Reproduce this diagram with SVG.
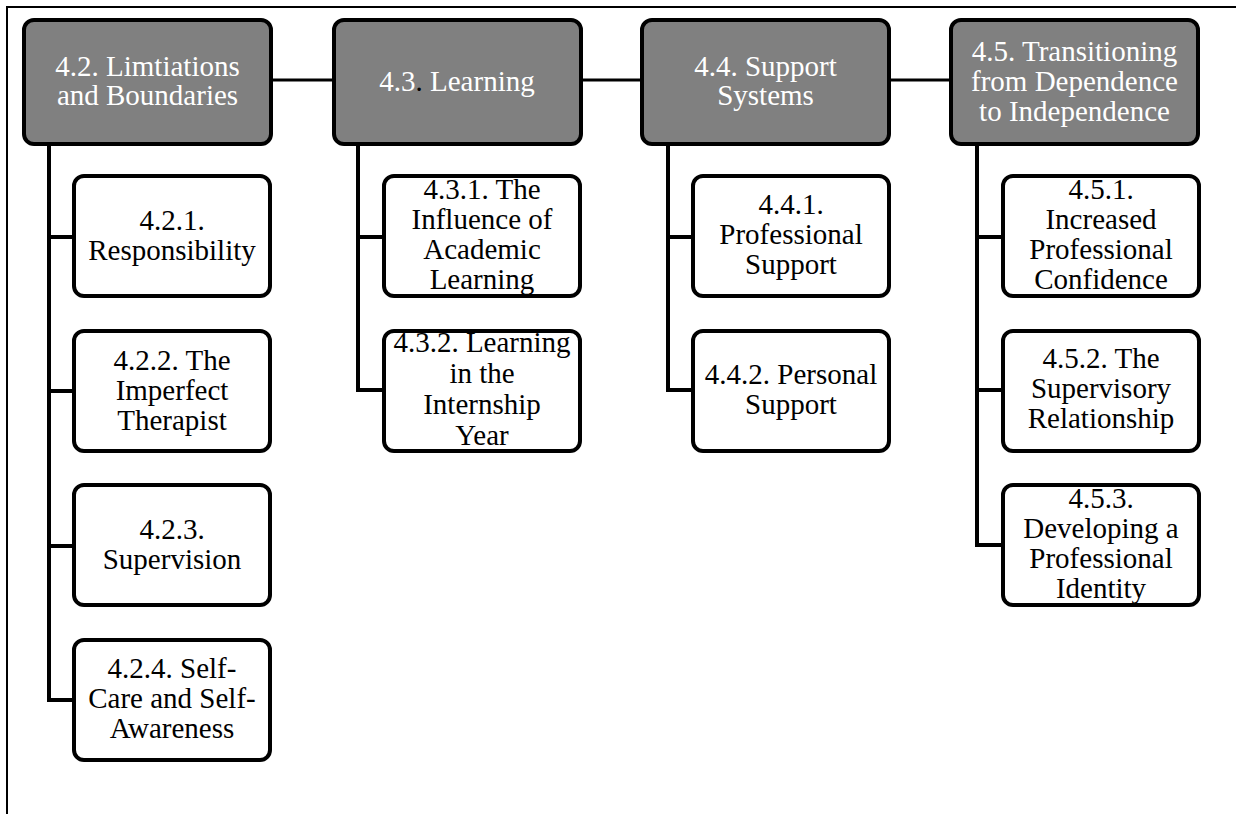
<svg xmlns="http://www.w3.org/2000/svg" width="1236" height="814" viewBox="0 0 1236 814">
<style>
.frame{stroke:#000;stroke-width:2;fill:none}
.hdr{fill:#808080;stroke:#000;stroke-width:4}
.child{fill:#fff;stroke:#000;stroke-width:4}
.ht{font-family:"Liberation Serif","Times New Roman",serif;font-size:29px;fill:#fff;text-anchor:middle}
.ct{font-family:"Liberation Serif","Times New Roman",serif;font-size:29px;fill:#000;text-anchor:middle}
.hl{stroke:#000;stroke-width:3;fill:none}
.cl{stroke:#000;stroke-width:4;fill:none;stroke-linejoin:miter}
</style>
<rect width="1236" height="814" fill="#fff"/>
<path class="frame" d="M6,7 H1236 M7,6 V814"/>
<g id="connectors">
<path class="hl" d="M273,80 H332 M582,80 H640 M891,80 H949"/>
<path class="cl" d="M49,146 V700 H72 M49,237 H72 M49,391 H72 M49,546 H72"/>
<path class="cl" d="M358,146 V390 H382 M358,237 H382"/>
<path class="cl" d="M668,146 V390 H691 M668,237 H691"/>
<path class="cl" d="M977,146 V545 H1001 M977,237 H1001 M977,390 H1001"/>
</g>
<g id="n42">
<rect class="hdr" x="24" y="20" width="247" height="124" rx="10"/>
<text class="ht" x="147.5" y="76">4.2. Limtiations</text>
<text class="ht" x="147.5" y="105">and Boundaries</text>
</g>
<g id="n43">
<rect class="hdr" x="334" y="20" width="247" height="124" rx="10"/>
<text class="ht" x="457" y="91">4.3<tspan fill="#000">.</tspan> Learning</text>
</g>
<g id="n44">
<rect class="hdr" x="642" y="20" width="247" height="124" rx="10"/>
<text class="ht" x="765.5" y="76">4.4. Support</text>
<text class="ht" x="765.5" y="105">Systems</text>
</g>
<g id="n45">
<rect class="hdr" x="951" y="20" width="247" height="124" rx="10"/>
<text class="ht" x="1074.5" y="61">4.5. Transitioning</text>
<text class="ht" x="1074.5" y="91">from Dependence</text>
<text class="ht" x="1074.5" y="121">to Independence</text>
</g>
<g id="n421">
<rect class="child" x="74" y="176" width="196" height="120" rx="10"/>
<text class="ct" x="172" y="230">4.2.1.</text>
<text class="ct" x="172" y="260">Responsibility</text>
</g>
<g id="n422">
<rect class="child" x="74" y="331" width="196" height="120" rx="10"/>
<text class="ct" x="172" y="370">4.2.2. The</text>
<text class="ct" x="172" y="400">Imperfect</text>
<text class="ct" x="172" y="430">Therapist</text>
</g>
<g id="n423">
<rect class="child" x="74" y="485" width="196" height="120" rx="10"/>
<text class="ct" x="172" y="539">4.2.3.</text>
<text class="ct" x="172" y="569">Supervision</text>
</g>
<g id="n424">
<rect class="child" x="74" y="640" width="196" height="120" rx="10"/>
<text class="ct" x="172" y="678">4.2.4. Self-</text>
<text class="ct" x="172" y="708">Care and Self-</text>
<text class="ct" x="172" y="738">Awareness</text>
</g>
<g id="n431">
<rect class="child" x="384" y="176" width="196" height="120" rx="10"/>
<text class="ct" x="482" y="199">4.3.1. The</text>
<text class="ct" x="482" y="229">Influence of</text>
<text class="ct" x="482" y="259">Academic</text>
<text class="ct" x="482" y="289">Learning</text>
</g>
<g id="n432">
<rect class="child" x="384" y="331" width="196" height="120" rx="10"/>
<text class="ct" x="482" y="352">4.3.2. Learning</text>
<text class="ct" x="482" y="383">in the</text>
<text class="ct" x="482" y="414">Internship</text>
<text class="ct" x="482" y="445">Year</text>
</g>
<g id="n441">
<rect class="child" x="693" y="176" width="196" height="120" rx="10"/>
<text class="ct" x="791" y="214">4.4.1.</text>
<text class="ct" x="791" y="244">Professional</text>
<text class="ct" x="791" y="274">Support</text>
</g>
<g id="n442">
<rect class="child" x="693" y="331" width="196" height="120" rx="10"/>
<text class="ct" x="791" y="384">4.4.2. Personal</text>
<text class="ct" x="791" y="414">Support</text>
</g>
<g id="n451">
<rect class="child" x="1003" y="176" width="196" height="120" rx="10"/>
<text class="ct" x="1101" y="199">4.5.1.</text>
<text class="ct" x="1101" y="229">Increased</text>
<text class="ct" x="1101" y="259">Professional</text>
<text class="ct" x="1101" y="289">Confidence</text>
</g>
<g id="n452">
<rect class="child" x="1003" y="331" width="196" height="120" rx="10"/>
<text class="ct" x="1101" y="368">4.5.2. The</text>
<text class="ct" x="1101" y="398">Supervisory</text>
<text class="ct" x="1101" y="428">Relationship</text>
</g>
<g id="n453">
<rect class="child" x="1003" y="485" width="196" height="120" rx="10"/>
<text class="ct" x="1101" y="508">4.5.3.</text>
<text class="ct" x="1101" y="538">Developing a</text>
<text class="ct" x="1101" y="568">Professional</text>
<text class="ct" x="1101" y="598">Identity</text>
</g>
</svg>
